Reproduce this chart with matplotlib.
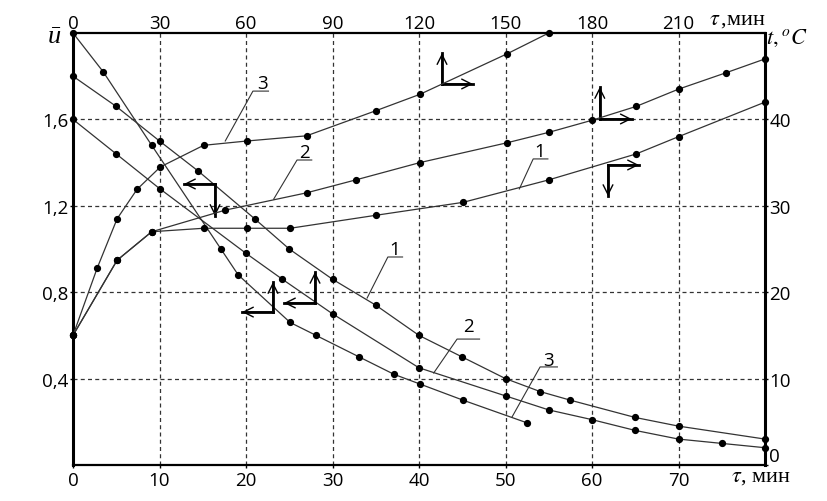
import matplotlib.pyplot as plt

plt.rcParams['mathtext.fontset'] = 'stix'
plt.rcParams['font.family'] = ['Open Sans', 'DejaVu Sans']

# убывающие кривые: u (левая ось) от времени, мин (нижняя ось)
d1_x = [0, 5, 10, 14.5, 21, 25, 30, 35, 40, 45, 50, 54, 57.5, 65, 70, 80]
d1_u = [1.80, 1.66, 1.50, 1.36, 1.14, 1.00, 0.86, 0.74, 0.60, 0.50, 0.40, 0.34, 0.30, 0.22, 0.18, 0.12]

d2_x = [0, 5, 10, 20, 24.2, 30, 40, 50, 55, 60, 65, 70, 75, 80]
d2_u = [1.60, 1.44, 1.28, 0.98, 0.86, 0.70, 0.45, 0.32, 0.255, 0.21, 0.16, 0.12, 0.10, 0.08]

d3_x = [0, 3.5, 9.1, 17.1, 19.1, 25.1, 28.1, 33.1, 37.1, 40.1, 45.1, 52.5]
d3_u = [2.00, 1.82, 1.48, 1.00, 0.88, 0.66, 0.60, 0.50, 0.42, 0.375, 0.30, 0.195]

# растущие кривые: t, °C (правая ось)
r1_x = [0, 5.1, 9.1, 15.1, 20.1, 25.1, 35, 45.1, 55, 65.1, 70, 80]
r1_t = [15, 23.7, 27.0, 27.4, 27.4, 27.4, 28.9, 30.4, 33.0, 36.0, 38.0, 42.0]

r2_x = [0, 5.1, 9.1, 17.6, 27.0, 32.7, 40.1, 50.2, 55, 60, 65.1, 70, 75.5, 80]
r2_t = [15, 23.7, 27.0, 29.5, 31.5, 33.0, 35.0, 37.3, 38.5, 39.9, 41.5, 43.5, 45.4, 47.0]

r3_x = [0, 2.8, 5.1, 7.4, 10.1, 15.1, 20.1, 27.0, 35.0, 40.1, 50.2, 55.0]
r3_t = [15, 22.8, 28.5, 31.9, 34.5, 37.0, 37.5, 38.1, 41.0, 42.9, 47.6, 50.0]

x_ticks = [0, 10, 20, 30, 40, 50, 60, 70]
tau_ticks = [0, 30, 60, 90, 120, 150, 180, 210]
u_ticks = [0.4, 0.8, 1.2, 1.6]
u_labels = ['0,4', '0,8', '1,2', '1,6']
t_ticks = [0, 10, 20, 30, 40]

line_kw = dict(color='#333333', lw=0.9, marker='o', ms=4.2, mfc='black', mec='black')
fs = 13.5

fig = plt.figure(figsize=(8.28, 5.02), dpi=100)
ax = fig.add_axes([73 / 828, 36 / 502, 692 / 828, 432 / 502])
axR = ax.twinx()
axT = ax.twiny()

ax.set_xlim(0, 80)
ax.set_ylim(0, 2.0)
axR.set_ylim(0, 50)
axT.set_xlim(0, 240)

ax.set_xticks(x_ticks)
ax.set_xticklabels([str(v) for v in x_ticks], fontsize=fs)
ax.set_yticks(u_ticks)
ax.set_yticklabels(u_labels, fontsize=fs)
axT.set_xticks(tau_ticks)
axT.set_xticklabels([str(v) for v in tau_ticks], fontsize=fs)
axR.set_yticks(t_ticks)
axR.set_yticklabels([str(v) for v in t_ticks], fontsize=fs)
axR.get_yticklabels()[0].set_va('bottom')

ax.grid(True, color='#333333', lw=0.9, linestyle=(0, (3.2, 2.6)))
ax.tick_params(axis='y', length=2, width=1, pad=1)
ax.tick_params(axis='x', length=2, width=1, pad=2)
axR.tick_params(length=2, width=1, pad=1)
axT.tick_params(length=0, width=1, pad=1)

for s in ['left', 'right']:
    ax.spines[s].set_linewidth(2.2)
for s in ['top', 'bottom']:
    ax.spines[s].set_linewidth(1.6)
for a in (axR, axT):
    for s in a.spines.values():
        s.set_visible(False)

ax.plot(d1_x, d1_u, **line_kw, clip_on=False)
ax.plot(d2_x, d2_u, **line_kw, clip_on=False)
ax.plot(d3_x, d3_u, **line_kw, clip_on=False)
axR.plot(r1_x, r1_t, **line_kw, clip_on=False)
axR.plot(r2_x, r2_t, **line_kw, clip_on=False)
axR.plot(r3_x, r3_t, **line_kw, clip_on=False)

# подписи кривых с выносками
labels = [
    ('3', 21.85, 1.77, (17.6, 1.50), 20.8, 22.6, 1.731),
    ('2', 26.8, 1.45, (23.2, 1.231), 25.9, 27.6, 1.412),
    ('1', 54.0, 1.455, (51.6, 1.278), 53.2, 54.9, 1.417),
    ('1', 37.2, 1.00, (34.0, 0.773), 36.4, 38.1, 0.963),
    ('2', 45.7, 0.645, (41.7, 0.426), 44.4, 47.0, 0.583),
    ('3', 55.0, 0.488, (50.75, 0.222), 54.0, 56.0, 0.454),
]
for txt, tx, ty, (cx, cy), ul, ur, uy in labels:
    ax.plot([cx, ul, ur], [cy, uy, uy], color='#333333', lw=0.8)
    ax.text(tx, ty, txt, fontsize=fs, ha='center', va='center')

# стрелки, указывающие оси
arrows = [
    ((42.66, 1.764), (42.66, 1.907), (46.24, 1.764)),
    ((60.9, 1.602), (60.9, 1.75), (64.6, 1.602)),
    ((61.85, 1.389), (61.85, 1.245), (65.43, 1.389)),
    ((16.42, 1.301), (16.42, 1.153), (12.83, 1.301)),
    ((23.12, 0.708), (23.12, 0.847), (19.54, 0.708)),
    ((27.98, 0.75), (27.98, 0.894), (24.39, 0.75)),
]
for corner, end_v, end_h in arrows:
    for end in (end_v, end_h):
        ax.plot([corner[0], end[0]], [corner[1], end[1]], color='black', lw=2.0,
                solid_capstyle='projecting')
        ax.annotate('', xy=end, xytext=corner,
                    arrowprops=dict(arrowstyle='->,head_length=0.5,head_width=0.25',
                                    color='black', lw=1.0, shrinkA=0, shrinkB=0,
                                    mutation_scale=14))

fig.text(54 / 828, 1 - 37 / 502, 'ū', fontsize=19, family='Liberation Serif',
         style='italic', ha='center', va='center')
fig.text(737 / 828, 1 - 21 / 502, r'$\tau\,$,мин', fontsize=16, family='Liberation Serif',
         ha='center', va='center')
fig.text(787 / 828, 1 - 38 / 502, r'$t,^{o}C$', fontsize=16, ha='center', va='center')
fig.text(761 / 828, 1 - 478 / 502, r'$\tau$, мин', fontsize=16, family='Liberation Serif',
         ha='center', va='center')

fig.savefig('out.png', dpi=100)
